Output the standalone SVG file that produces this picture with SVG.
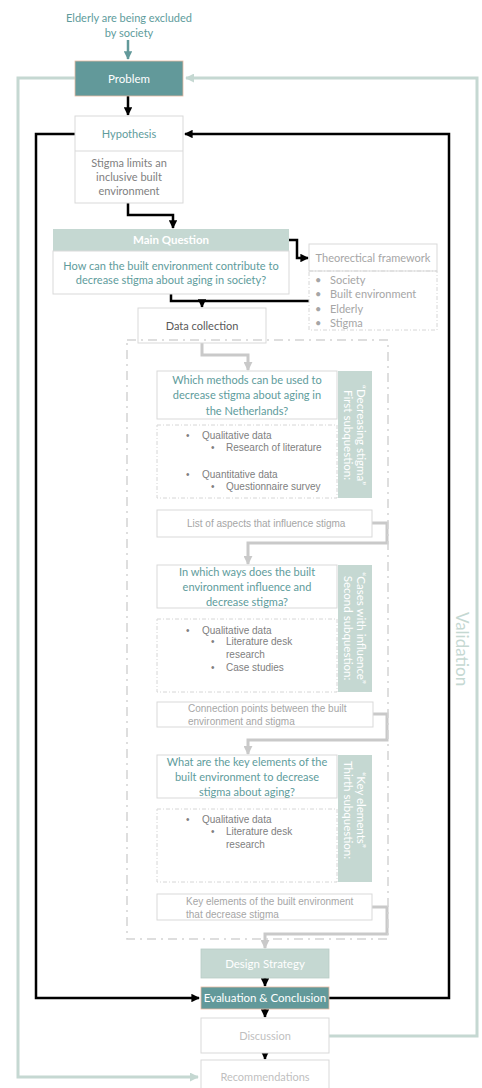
<svg xmlns="http://www.w3.org/2000/svg" width="482" height="1088" viewBox="0 0 482 1088">
<defs>
<style>
text{font-family:Lato,"Liberation Sans",sans-serif;}
.teal{fill:#5e9c9c;font-size:11px;text-anchor:middle;}
.wt{fill:#ffffff;font-size:11.5px;text-anchor:middle;}
.gr{fill:#a6a6a6;font-size:11px;}
.ar{font-family:"Liberation Sans",Arial,sans-serif;fill:#808080;font-size:10px;}
.ag{font-family:"Liberation Sans",Arial,sans-serif;fill:#a6a6a6;font-size:10px;}
.box{fill:#ffffff;stroke:#d9d9d9;stroke-width:1;}
.dbox{fill:none;stroke:#d6d6d6;stroke-width:1;stroke-dasharray:4 2 1 2;}
.lg{fill:#c5d8d2;}
.teb{fill:#62999a;stroke:#e8b9a2;stroke-width:0.8;}
.blk{fill:none;stroke:#000;stroke-width:2.5;}
.gry{fill:none;stroke:#c9c9c9;stroke-width:3;}
.val{fill:none;stroke:#c5d8d2;stroke-width:3;}
</style>
<marker id="ab" viewBox="0 0 10 10" refX="9" refY="5" markerWidth="3.4" markerHeight="3.4" orient="auto" markerUnits="strokeWidth"><path d="M0,0 L10,5 L0,10 z" fill="#000"/></marker>
<marker id="ag" viewBox="0 0 10 10" refX="9" refY="5" markerWidth="3" markerHeight="3" orient="auto" markerUnits="strokeWidth"><path d="M0,0 L10,5 L0,10 z" fill="#c9c9c9"/></marker>
<marker id="av" viewBox="0 0 10 10" refX="9" refY="5" markerWidth="3" markerHeight="3" orient="auto" markerUnits="strokeWidth"><path d="M0,0 L10,5 L0,10 z" fill="#c5d8d2"/></marker>
<marker id="at" viewBox="0 0 10 10" refX="9" refY="5" markerWidth="3.4" markerHeight="3.4" orient="auto" markerUnits="strokeWidth"><path d="M0,0 L10,5 L0,10 z" fill="#62999a"/></marker>
</defs>
<rect width="482" height="1088" fill="#ffffff"/>

<g id="connectors">
<!-- validation loop -->
<path class="val" d="M329,1036 H477 V78 H186" marker-end="url(#av)"/>
<path class="val" d="M75,78 H18 V1077 H198" marker-end="url(#av)"/>
<!-- black loop -->
<path class="blk" d="M75,134 H36 V998 H199" marker-end="url(#ab)"/>
<path class="blk" d="M329,998 H449 V134 H185" marker-end="url(#ab)"/>
<!-- top -->
<path fill="none" stroke="#62999a" stroke-width="2.5" d="M128,40 V59" marker-end="url(#at)"/>
<path class="blk" d="M128,96 V115" marker-end="url(#ab)"/>
<path class="blk" d="M128,203 V215 H173 V228" marker-end="url(#ab)"/>
<path class="blk" d="M289,240 H297 V258 H308" marker-end="url(#ab)"/>
<path class="blk" d="M171,294 V301 H309"/>
<path class="blk" d="M202,301 V307" marker-end="url(#ab)"/>
<!-- grey flow -->
<path class="gry" d="M202,343 V355 H248 V370" marker-end="url(#ag)"/>
<path class="gry" d="M372,523 H387 V543 H248 V564" marker-end="url(#ag)"/>
<path class="gry" d="M373,714 H387 V740 H248 V754" marker-end="url(#ag)"/>
<path class="gry" d="M372,907 H387 V934 H265 V948" marker-end="url(#ag)"/>
<!-- bottom black -->
<path class="blk" d="M265,978 V986" marker-end="url(#ab)"/>
<path class="blk" d="M265,1009 V1017" marker-end="url(#ab)"/>
<path class="blk" d="M265,1053 V1059" marker-end="url(#ab)"/>
</g>

<g id="source">
<text class="teal" x="129" y="22" font-size="10.5">Elderly are being excluded</text>
<text class="teal" x="129" y="37" font-size="10.5">by society</text>
</g>

<g id="problem">
<rect class="teb" x="75" y="61" width="108" height="35"/>
<text class="wt" x="129" y="83" font-size="12">Problem</text>
</g>

<g id="hypothesis">
<rect class="box" x="75" y="116" width="108" height="87"/>
<line x1="75" y1="151" x2="183" y2="151" stroke="#d9d9d9"/>
<text class="teal" x="129" y="138">Hypothesis</text>
<text x="129" y="167" fill="#7f7f7f" font-size="11" text-anchor="middle">Stigma limits an</text>
<text x="129" y="181" fill="#7f7f7f" font-size="11" text-anchor="middle">inclusive built</text>
<text x="129" y="195" fill="#7f7f7f" font-size="11" text-anchor="middle">environment</text>
</g>

<g id="main-question">
<rect class="lg" x="53" y="229" width="236" height="22"/>
<rect class="box" x="53" y="251" width="236" height="43"/>
<text class="wt" x="171" y="244" font-weight="bold" font-size="12">Main Question</text>
<text class="teal" x="171" y="270">How can the built environment contribute to</text>
<text class="teal" x="171" y="284">decrease stigma about aging in society?</text>
</g>

<g id="theoretical-framework">
<rect class="box" x="309" y="244" width="128" height="27"/>
<text class="gr" x="373" y="262" text-anchor="middle">Theorectical framework</text>
<rect class="dbox" x="309" y="271" width="128" height="59"/>
<text class="gr" x="315" y="284">•</text><text class="gr" x="330" y="284">Society</text>
<text class="gr" x="315" y="298">•</text><text class="gr" x="330" y="298">Built environment</text>
<text class="gr" x="315" y="313">•</text><text class="gr" x="330" y="313">Elderly</text>
<text class="gr" x="315" y="327">•</text><text class="gr" x="330" y="327">Stigma</text>
</g>

<g id="data-collection">
<rect class="box" x="138" y="308" width="128" height="35"/>
<text x="202" y="330" fill="#595959" font-size="11" text-anchor="middle">Data collection</text>
</g>

<g id="container">
<rect x="127" y="340" width="261" height="599" fill="none" stroke="#d3d3d3" stroke-width="1.5" stroke-dasharray="9 5 2 5"/>
</g>

<g id="sub1">
<rect class="box" x="157" y="371" width="180" height="48"/>
<text class="teal" x="247" y="384">Which methods can be used to</text>
<text class="teal" x="247" y="399">decrease stigma about aging in</text>
<text class="teal" x="247" y="415">the Netherlands?</text>
<rect class="lg" x="338" y="371" width="34" height="127"/>
<g transform="translate(355,435) rotate(90)">
<text class="wt" x="0" y="-2" font-size="11">“Decreasing stigma”</text>
<text class="wt" x="0" y="11" font-size="11">First subquestion:</text>
</g>
<rect class="dbox" x="157" y="425" width="180" height="73"/>
<text class="ar" x="186" y="439">•</text><text class="ar" x="202" y="439">Qualitative data</text>
<text class="ar" x="211" y="451">•</text><text class="ar" x="226" y="451">Research of literature</text>
<text class="ar" x="186" y="478">•</text><text class="ar" x="202" y="478">Quantitative data</text>
<text class="ar" x="211" y="490">•</text><text class="ar" x="226" y="490">Questionnaire survey</text>
</g>

<g id="out1">
<rect class="box" x="157" y="510" width="215" height="27"/>
<text class="ag" x="187" y="527">List of aspects that influence stigma</text>
</g>

<g id="sub2">
<rect class="box" x="157" y="565" width="180" height="43"/>
<text class="teal" x="247" y="576">In which ways does the built</text>
<text class="teal" x="247" y="591">environment influence and</text>
<text class="teal" x="247" y="606">decrease stigma?</text>
<rect class="lg" x="338" y="565" width="34" height="127"/>
<g transform="translate(355,628) rotate(90)">
<text class="wt" x="0" y="-2" font-size="11">“Cases with influence”</text>
<text class="wt" x="0" y="11" font-size="11">Second subquestion:</text>
</g>
<rect class="dbox" x="157" y="619" width="180" height="73"/>
<text class="ar" x="186" y="634">•</text><text class="ar" x="202" y="634">Qualitative data</text>
<text class="ar" x="211" y="645">•</text><text class="ar" x="226" y="645">Literature desk</text>
<text class="ar" x="226" y="658">research</text>
<text class="ar" x="211" y="671">•</text><text class="ar" x="226" y="671">Case studies</text>
</g>

<g id="out2">
<rect class="box" x="157" y="702" width="216" height="25"/>
<text class="ag" x="188" y="712">Connection points between the built</text>
<text class="ag" x="188" y="725">environment and stigma</text>
</g>

<g id="sub3">
<rect class="box" x="157" y="755" width="180" height="43"/>
<text class="teal" x="247" y="766">What are the key elements of the</text>
<text class="teal" x="247" y="781">built environment to decrease</text>
<text class="teal" x="247" y="796">stigma about aging?</text>
<rect class="lg" x="338" y="755" width="34" height="127"/>
<g transform="translate(355,810) rotate(90)">
<text class="wt" x="0" y="-2" font-size="11">“Key elements”</text>
<text class="wt" x="0" y="11" font-size="11">Thirth subquestion:</text>
</g>
<rect class="dbox" x="157" y="809" width="180" height="73"/>
<text class="ar" x="186" y="823">•</text><text class="ar" x="202" y="823">Qualitative data</text>
<text class="ar" x="211" y="835">•</text><text class="ar" x="226" y="835">Literature desk</text>
<text class="ar" x="226" y="848">research</text>
</g>

<g id="out3">
<rect class="box" x="157" y="894" width="215" height="26"/>
<text class="ag" x="186" y="905">Key elements of the built environment</text>
<text class="ag" x="186" y="918">that decrease stigma</text>
</g>

<g id="design-strategy">
<rect class="lg" x="201" y="949" width="128" height="29" stroke="#b8ccc6" stroke-width="0.8"/>
<text class="wt" x="265" y="968">Design Strategy</text>
</g>

<g id="evaluation">
<rect class="teb" x="201" y="987" width="128" height="22"/>
<text class="wt" x="265" y="1002">Evaluation &amp; Conclusion</text>
</g>

<g id="discussion">
<rect class="box" x="201" y="1018" width="128" height="35"/>
<text x="265" y="1040" fill="#bfbfbf" font-size="11" text-anchor="middle">Discussion</text>
</g>

<g id="recommendations">
<rect class="box" x="201" y="1060" width="128" height="30"/>
<text x="265" y="1081" fill="#bfbfbf" font-size="11" text-anchor="middle">Recommendations</text>
</g>

<g id="validation-label">
<text x="0" y="0" transform="translate(456,649) rotate(90)" fill="#c5d8d2" font-size="17" text-anchor="middle">Validation</text>
</g>
</svg>
